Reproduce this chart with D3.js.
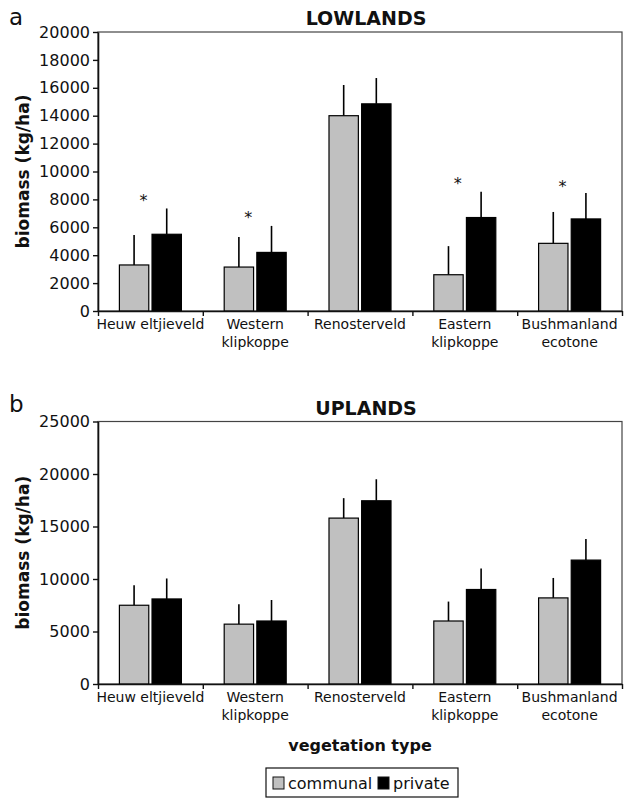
<!DOCTYPE html>
<html>
<head>
<meta charset="utf-8">
<script src="https://cdn.jsdelivr.net/npm/d3@7"></script>
<style>
  body { margin: 0; background: #fff; }
  svg text { font-family: "DejaVu Sans", sans-serif; fill: #111; }
</style>
</head>
<body>
<svg id="chart" width="624" height="798"></svg>
<script>
const categories = ["Heuw eltjieveld", "Western\nklipkoppe", "Renosterveld", "Eastern\nklipkoppe", "Bushmanland\necotone"];
const series = ["communal", "private"];

// lowlands (panel a)
const lowCommunal = [3300, 3150, 14000, 2600, 4850];
const lowCommunalErr = [5450, 5300, 16200, 4650, 7100];
const lowPrivate = [5500, 4200, 14850, 6700, 6600];
const lowPrivateErr = [7350, 6100, 16700, 8550, 8450];
const lowStars = [8150, 6950, null, 9400, 9150];
const lowTicks = [0, 2000, 4000, 6000, 8000, 10000, 12000, 14000, 16000, 18000, 20000];

// uplands (panel b)
const upCommunal = [7500, 5700, 15800, 6000, 8200];
const upCommunalErr = [9400, 7600, 17700, 7850, 10100];
const upPrivate = [8100, 6000, 17450, 9000, 11800];
const upPrivateErr = [10050, 8000, 19500, 11000, 13800];
const upStars = [null, null, null, null, null];
const upTicks = [0, 5000, 10000, 15000, 20000, 25000];

const colors = {communal: "#c0c0c0", private: "#000"};
const svg = d3.select("#chart");
const left = 98, right = 622;

function drawPanel(opt) {
  const g = svg.append("g");
  const x = d3.scaleBand().domain(d3.range(categories.length)).range([left, right]).padding(0);
  const half = 31;
  const x1 = d3.scaleBand().domain(series).range([-half, half]).paddingInner(0.1);
  const y = d3.scaleLinear().domain([0, opt.max]).range([opt.bottom, opt.top]);

  // frame (top + right)
  g.append("rect")
    .attr("x", left).attr("y", opt.top)
    .attr("width", right - left).attr("height", opt.bottom - opt.top)
    .attr("fill", "none").attr("stroke", "#444").attr("stroke-width", 1.2);

  const rows = categories.map((c, i) => ({
    i,
    vals: [
      {s: "communal", v: opt.communal[i], e: opt.communalErr[i]},
      {s: "private", v: opt.private[i], e: opt.privateErr[i]}
    ]
  }));

  const grp = g.selectAll("g.cat").data(rows).enter().append("g")
    .attr("class", "cat")
    .attr("transform", d => "translate(" + (x(d.i) + x.bandwidth() / 2) + ",0)");

  // error bars (upper only)
  grp.selectAll("line.err").data(d => d.vals).enter().append("line")
    .attr("x1", d => x1(d.s) + x1.bandwidth() / 2)
    .attr("x2", d => x1(d.s) + x1.bandwidth() / 2)
    .attr("y1", d => y(d.v))
    .attr("y2", d => y(d.e))
    .attr("stroke", "#000").attr("stroke-width", 1.6);

  grp.selectAll("rect").data(d => d.vals).enter().append("rect")
    .attr("x", d => x1(d.s))
    .attr("y", d => y(d.v))
    .attr("width", x1.bandwidth())
    .attr("height", d => opt.bottom - y(d.v))
    .attr("fill", d => colors[d.s])
    .attr("stroke", "#000").attr("stroke-width", 1.2);

  // significance stars
  g.selectAll("text.star").data(opt.stars.map((v, i) => ({v, i})).filter(d => d.v !== null))
    .enter().append("text")
    .attr("x", d => x(d.i) + x.bandwidth() / 2 - 7)
    .attr("y", d => y(d.v) + 9)
    .attr("text-anchor", "middle")
    .attr("font-size", 16)
    .text("*");

  // y axis
  const ya = g.append("g").attr("transform", "translate(" + left + ",0)")
    .call(d3.axisLeft(y).tickValues(opt.ticks).tickFormat(d3.format("d")).tickSize(5).tickSizeOuter(0).tickPadding(3));
  ya.select(".domain").attr("stroke", "#111").attr("stroke-width", 1.6);
  ya.selectAll(".tick line").attr("stroke", "#111").attr("stroke-width", 1.4);
  ya.selectAll("text").attr("font-size", 16).attr("fill", "#111");

  // x axis, ticks at category boundaries
  const xb = d3.scaleLinear().domain([0, categories.length]).range([left, right]);
  const xa = g.append("g").attr("transform", "translate(0," + opt.bottom + ")")
    .call(d3.axisBottom(xb).tickValues(d3.range(categories.length + 1)).tickFormat("").tickSize(5).tickSizeOuter(0));
  xa.select(".domain").attr("stroke", "#111").attr("stroke-width", 1.6);
  xa.selectAll(".tick line").attr("stroke", "#111").attr("stroke-width", 1.4);

  const lab = g.selectAll("text.cat").data(categories).enter().append("text")
    .attr("text-anchor", "middle")
    .attr("font-size", 14)
    .attr("y", opt.bottom + 18);
  lab.selectAll("tspan").data((d, i) => d.split("\n").map(t => ({t, i}))).enter().append("tspan")
    .attr("x", d => x(d.i) + x.bandwidth() / 2)
    .attr("dy", (d, j) => j === 0 ? 0 : 18)
    .text(d => d.t);
  lab.each(function(d, i) {
    d3.select(this).selectAll("tspan").attr("x", x(i) + x.bandwidth() / 2);
  });

  // y label
  g.append("text")
    .attr("transform", "translate(29," + ((opt.top + opt.bottom) / 2) + ") rotate(-90)")
    .attr("text-anchor", "middle")
    .attr("font-size", 17).attr("font-weight", "bold")
    .text("biomass (kg/ha)");

  // title and panel letter
  g.append("text")
    .attr("x", 366).attr("y", opt.top - 7)
    .attr("text-anchor", "middle")
    .attr("font-size", 19).attr("font-weight", "bold")
    .text(opt.title);
  g.append("text")
    .attr("x", 9).attr("y", opt.letterY)
    .attr("font-size", 23)
    .text(opt.letter);
}

drawPanel({
  title: "LOWLANDS", letter: "a", letterY: 25,
  top: 32, bottom: 311, max: 20000, ticks: lowTicks,
  communal: lowCommunal, communalErr: lowCommunalErr,
  private: lowPrivate, privateErr: lowPrivateErr, stars: lowStars
});
drawPanel({
  title: "UPLANDS", letter: "b", letterY: 412,
  top: 421.5, bottom: 684, max: 25000, ticks: upTicks,
  communal: upCommunal, communalErr: upCommunalErr,
  private: upPrivate, privateErr: upPrivateErr, stars: upStars
});

// x axis title
svg.append("text")
  .attr("x", 360).attr("y", 751)
  .attr("text-anchor", "middle")
  .attr("font-size", 16).attr("font-weight", "bold")
  .text("vegetation type");

// legend
const leg = svg.append("g").attr("transform", "translate(266,768)");
leg.append("rect").attr("width", 192).attr("height", 29)
  .attr("fill", "#fff").attr("stroke", "#111").attr("stroke-width", 1.2);
const items = [{s: "communal", x: 7}, {s: "private", x: 112}];
const li = leg.selectAll("g.item").data(items).enter().append("g")
  .attr("transform", d => "translate(" + d.x + ",0)");
li.append("rect").attr("y", 9).attr("width", 11).attr("height", 12)
  .attr("fill", d => colors[d.s]).attr("stroke", "#111").attr("stroke-width", 1);
li.append("text").attr("x", 15).attr("y", 21)
  .attr("font-size", 16)
  .text(d => d.s);
</script>
</body>
</html>
